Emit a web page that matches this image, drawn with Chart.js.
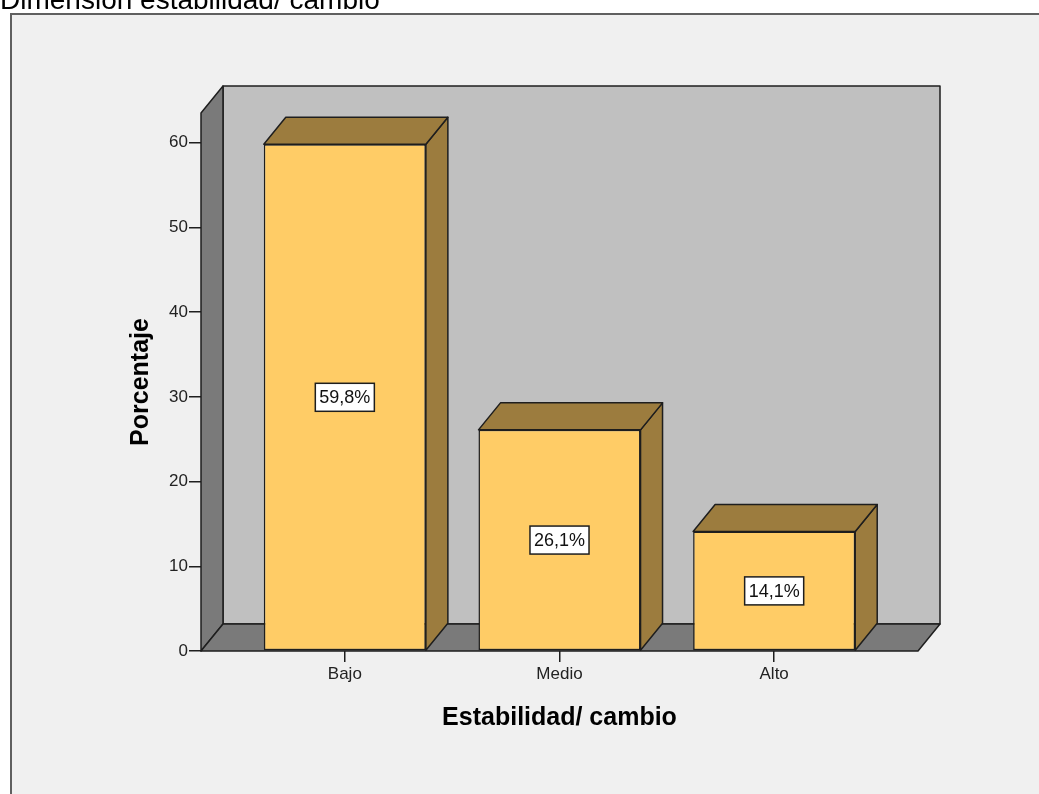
<!DOCTYPE html>
<html>
<head>
<meta charset="utf-8">
<title>Dimensión estabilidad/ cambio</title>
<script src="https://cdn.jsdelivr.net/npm/chart.js@4"></script>
<style>
  html, body { margin: 0; padding: 0; background: #fff; overflow: hidden; }
  #wrap { position: relative; width: 1039px; height: 794px; }
  #title {
    position: absolute; left: 0; top: -14px; z-index: 2;
    font: 28px "Liberation Sans", Arial, sans-serif; line-height: 28px;
    color: #000; white-space: nowrap;
  }
</style>
</head>
<body>
<div id="wrap">
  <canvas id="chart"></canvas>
  <div id="title">Dimensión estabilidad/ cambio</div>
</div>
<script>
const categories = ['Bajo', 'Medio', 'Alto'];
const percentages = [59.8, 26.1, 14.1];
const yTicks = [0, 10, 20, 30, 40, 50, 60];

const FONT = '"Liberation Sans", Arial, sans-serif';
const DX = 22, DY = -27;   // depth of the 3D box
const LINE = '#1e1e1e';

function poly(ctx, pts, fill) {
    ctx.beginPath();
    ctx.moveTo(pts[0][0], pts[0][1]);
    for (let i = 1; i < pts.length; i++) ctx.lineTo(pts[i][0], pts[i][1]);
    ctx.closePath();
    ctx.fillStyle = fill;
    ctx.fill();
    ctx.stroke();
}

// panel background and frame
const framePlugin = {
    id: 'frame',
    beforeDraw(chart) {
        const ctx = chart.ctx;
        ctx.save();
        ctx.fillStyle = '#fff';
        ctx.fillRect(0, 0, chart.width, chart.height);
        ctx.fillStyle = '#f0f0f0';
        ctx.fillRect(11, 14, chart.width, chart.height);
        ctx.strokeStyle = '#606060';
        ctx.lineWidth = 2;
        ctx.beginPath();
        ctx.moveTo(11, chart.height + 2);
        ctx.lineTo(11, 14);
        ctx.lineTo(chart.width + 2, 14);
        ctx.stroke();
        ctx.restore();
    }
};

// walls, floor and the top/side faces of each bar
const boxPlugin = {
    id: 'box3d',
    beforeDatasetsDraw(chart) {
        const ctx = chart.ctx;
        const { left, right, top, bottom } = chart.chartArea;
        ctx.save();
        ctx.strokeStyle = LINE;
        ctx.lineWidth = 1.5;
        ctx.lineJoin = 'round';
        poly(ctx, [[left + DX, top + DY], [right + DX, top + DY], [right + DX, bottom + DY], [left + DX, bottom + DY]], '#c0c0c0');
        poly(ctx, [[left, top], [left + DX, top + DY], [left + DX, bottom + DY], [left, bottom]], '#7a7a7a');
        poly(ctx, [[left, bottom], [left + DX, bottom + DY], [right + DX, bottom + DY], [right, bottom]], '#7a7a7a');

        chart.getDatasetMeta(0).data.forEach(bar => {
            const x0 = bar.x - bar.width / 2;
            const x1 = bar.x + bar.width / 2;
            poly(ctx, [[x1, bar.y], [x1 + DX, bar.y + DY], [x1 + DX, bar.base + DY], [x1, bar.base]], '#9c7c3e');
            poly(ctx, [[x0, bar.y], [x0 + DX, bar.y + DY], [x1 + DX, bar.y + DY], [x1, bar.y]], '#9c7c3e');
        });
        ctx.restore();
    },
    afterDatasetsDraw(chart) {
        const ctx = chart.ctx;
        ctx.save();
        ctx.font = '18px ' + FONT;
        ctx.textAlign = 'center';
        ctx.textBaseline = 'middle';
        chart.getDatasetMeta(0).data.forEach((bar, i) => {
            const text = percentages[i].toFixed(1).replace('.', ',') + '%';
            const cy = (bar.y + bar.base) / 2;
            const w = ctx.measureText(text).width + 8;
            const h = 28;
            ctx.fillStyle = '#fff';
            ctx.fillRect(bar.x - w / 2, cy - h / 2, w, h);
            ctx.strokeStyle = LINE;
            ctx.lineWidth = 1.5;
            ctx.strokeRect(bar.x - w / 2, cy - h / 2, w, h);
            ctx.fillStyle = '#111';
            ctx.fillText(text, bar.x, cy + 1);
        });
        ctx.restore();
    }
};

new Chart(document.getElementById('chart'), {
    type: 'bar',
    data: {
        datasets: [{
            data: percentages.map((v, i) => ({ x: i, y: v })),
            backgroundColor: '#ffcc66',
            borderColor: LINE,
            borderWidth: 1.5,
            borderSkipped: false,
            categoryPercentage: 1,
            barPercentage: 0.755
        }]
    },
    options: {
        responsive: true,
        maintainAspectRatio: false,
        animation: false,
        layout: { padding: { left: 122, top: 113, right: 121, bottom: 0 } },
        plugins: {
            legend: { display: false },
            tooltip: { enabled: false }
        },
        scales: {
            x: {
                type: 'linear',
                min: -0.67,
                max: 2.67,
                offset: false,
                afterBuildTicks: s => { s.ticks = categories.map((c, i) => ({ value: i })); },
                afterFit: s => { s.height = 143; },
                grid: { offset: false, drawOnChartArea: false, tickLength: 11, color: LINE, lineWidth: 1.5 },
                border: { display: false },
                ticks: {
                    callback: v => categories[v],
                    font: { family: FONT, size: 17 },
                    color: '#222',
                    padding: 2,
                    maxRotation: 0,
                    autoSkip: false
                },
                title: {
                    display: true,
                    text: 'Estabilidad/ cambio',
                    font: { family: FONT, size: 25, weight: 'bold' },
                    color: '#000',
                    padding: { top: 4, bottom: 61 }
                }
            },
            y: {
                min: 0,
                max: 63.5,
                afterBuildTicks: s => { s.ticks = yTicks.map(v => ({ value: v })); },
                afterFit: s => { s.width = 79; },
                grid: { drawOnChartArea: false, tickLength: 12, color: LINE, lineWidth: 1.5 },
                border: { display: false },
                ticks: {
                    font: { family: FONT, size: 17 },
                    color: '#222',
                    padding: 1
                },
                title: {
                    display: true,
                    text: 'Porcentaje',
                    font: { family: FONT, size: 25, weight: 'bold' },
                    color: '#000',
                    padding: { top: 4, bottom: 4 }
                }
            }
        }
    },
    plugins: [framePlugin, boxPlugin]
});
</script>
</body>
</html>
